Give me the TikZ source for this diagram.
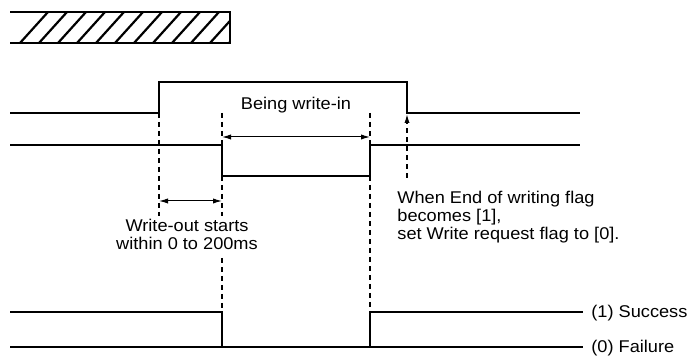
\documentclass[tikz,border=0pt]{standalone}
\usepackage{fontspec}
\setmainfont[FakeStretch=1.07]{Liberation Sans}
\usetikzlibrary{arrows.meta}

\begin{document}
\begin{tikzpicture}[x=0.5pt, y=-0.5pt,
    wave/.style={line width=1.4pt, line join=miter},
    guide/.style={line width=0.65pt, dash pattern=on 2.5pt off 2pt},
    span/.style={line width=0.5pt, {Latex[length=4.5pt,width=2.6pt]}-{Latex[length=4.5pt,width=2.6pt]}},
    lbl/.style={font=\fontsize{8.5}{8.9}\selectfont, inner sep=0pt}]
\useasboundingbox (0,0) rectangle (690,356);

% hatched bar
\begin{scope}
  \clip (10,12) rectangle (230,43);
  \foreach \i in {0,...,12}
    \draw[line width=1.1pt] (20+19*\i,43) -- ++(28,-31);
\end{scope}
\draw[line width=1.3pt] (10,12) -- (230,12) -- (230,43) -- (10,43);

% write request flag
\draw[wave] (10,113) -- (159,113) -- (159,82) -- (407,82) -- (407,113) -- (580,113);
% end of writing flag
\draw[wave] (10,145) -- (222,145) -- (222,176) -- (370,176) -- (370,145) -- (580,145);
% result
\draw[wave] (10,312) -- (222,312) -- (222,347);
\draw[wave] (370,347) -- (370,312) -- (583,312);
\draw[wave] (10,347) -- (583,347);

% timing guides
\coordinate (rise) at (159,113);
\coordinate (riseend) at (159,216);
\coordinate (fall) at (222,113);
\coordinate (fallgap) at (222,216);
\coordinate (fallresume) at (222,258);
\coordinate (fallend) at (222,312);
\coordinate (back) at (370,113);
\coordinate (backend) at (370,312);
\coordinate (done) at (407,178);
\coordinate (donetip) at (407,114);
\draw[guide] (rise) -- (riseend);
\draw[guide] (fall) -- (fallgap);
\draw[guide] (fallresume) -- (fallend);
\draw[guide] (back) -- (backend);
\draw[guide, -{Latex[length=4.5pt,width=2.6pt]}] (done) -- (donetip);

% spans
\coordinate (w1) at (159,201);
\coordinate (w2) at (222,201);
\coordinate (b1) at (222,137);
\coordinate (b2) at (370,137);
\draw[span] (w1) -- (w2);
\draw[span] (b1) -- (b2);

% labels
\node[lbl, anchor=base] (busy) at (296,110) {Being write-in};
\node[lbl, anchor=north, align=center] (outnote) at (187,219) {Write-out starts\\within 0 to 200ms};
\node[lbl, anchor=north west, align=left] (endnote) at (397,191) {When End of writing flag\\becomes [1],\\set Write request flag to [0].};
\node[lbl, anchor=mid west] (ok) at (591,312) {(1) Success};
\node[lbl, anchor=mid west] (ng) at (591,347) {(0) Failure};
\end{tikzpicture}
\end{document}
